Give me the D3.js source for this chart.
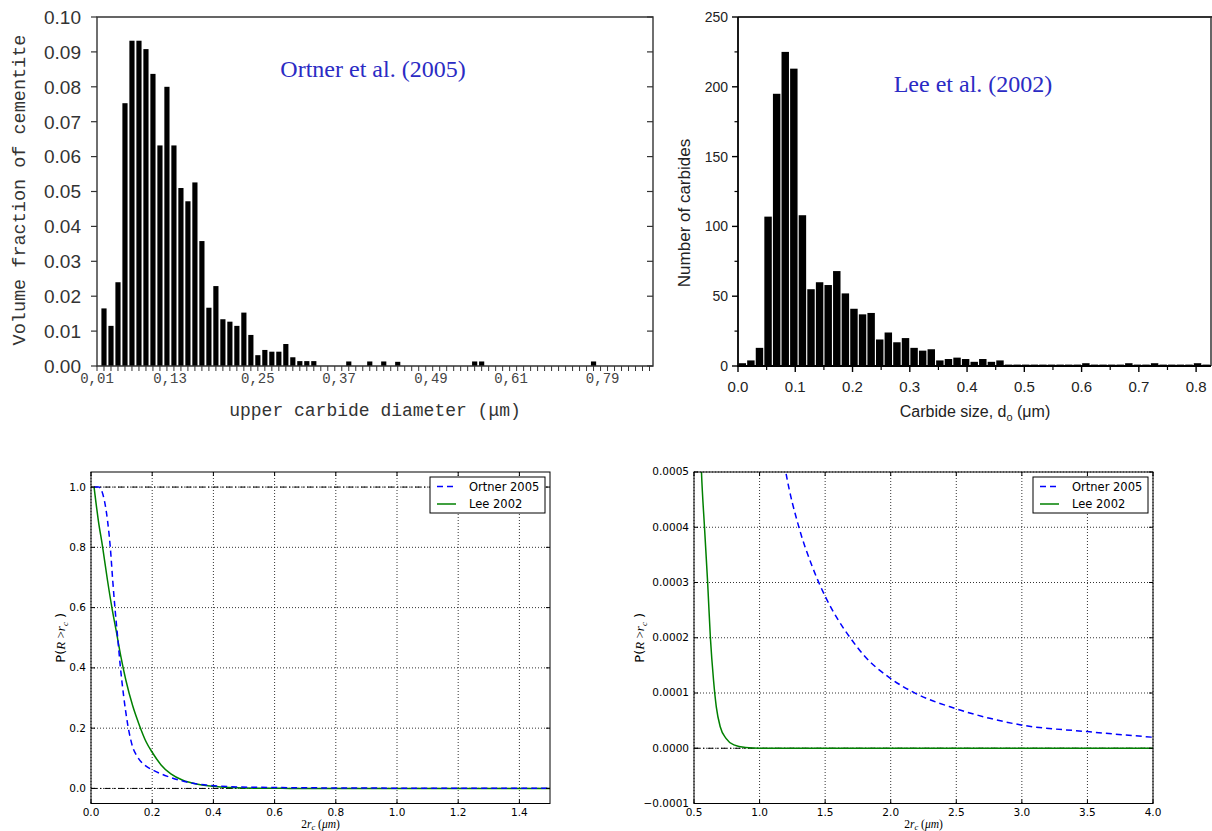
<!DOCTYPE html>
<html><head><meta charset="utf-8">
<script src="https://cdn.jsdelivr.net/npm/d3@7"></script>
<style>body{margin:0;background:#fff} svg{display:block}</style>
</head><body>
<svg id="c" width="1212" height="831"></svg>
<script>
// ---------------- DATA ----------------
// Top-left: Ortner et al. (2005) histogram (volume fraction per bin, bin index 0..78)
const ortnerFraction = [
 0.0165,0.0115,0.0240,0.0753,0.0932,0.0932,0.0908,0.0837,0.0632,0.0800,
 0.0632,0.0510,0.0472,0.0526,0.0358,0.0167,0.0229,0.0134,0.0127,0.0115,
 0.0153,0.0089,0.0031,0.0046,0.0041,0.0041,0.0063,0.0025,0.0014,0.0014,
 0.0014,0,0,0,0,0.0013,0,0,0.0013,0,
 0.0013,0,0.0012,0,0,0,0,0,0,0,
 0,0,0,0.0013,0.0013,0,0,0,0,0,
 0,0,0,0,0,0,0,0,0,0,
 0.0013,0,0,0,0,0,0,0,0];
const ortnerTickLabels = ["0,01","0,13","0,25","0,37","0,49","0,61","0,79"];
const ortnerTickBins   = [-1, 9.45, 22.0, 33.6, 46.75, 58.2, 71.3];
const ortnerYTicks = [0,0.01,0.02,0.03,0.04,0.05,0.06,0.07,0.08,0.09,0.10];

// Top-right: Lee et al. (2002) histogram (counts, bin width 0.015 um)
const leeBinWidth = 0.015;
const leeCounts = [
 2,4,13,107,195,225,213,108,55,60,
 58,68,52,41,37,38,19,24,17,20,
 13,11,12,4,5,6,5,3,5,3,
 4,1,1,1,1,1,1,1,1,1,
 2,1,1,1,1,2,1,1,2,1,
 1,1,1,2,1];
const leeXTicks = [0,0.1,0.2,0.3,0.4,0.5,0.6,0.7,0.8];
const leeYTicks = [0,50,100,150,200,250];

// Bottom: survival functions P(R > r_c) vs 2r_c (um)
const ortnerCurveX = [0.011,0.025,0.0436,0.054,0.063,0.071,0.078,0.087,0.096,0.107,0.12,0.136,0.15,0.165,0.18,0.2,0.225,0.25,0.305,0.37,0.458,0.62,0.8,1.0,1.2,1.3,1.4,1.5,1.6,1.7,1.8,1.995,2.189,2.487,2.755,2.993,3.5,4.0];
const ortnerCurveP = [1.0,1.0,0.956,0.889,0.801,0.69,0.602,0.503,0.403,0.304,0.212,0.138,0.108,0.087,0.074,0.062,0.05,0.04,0.023,0.012,0.0058,0.0028,0.0016,0.0009,0.0005,0.0004,0.00033,0.000275,0.000232,0.000197,0.000167,0.000127,0.0000994,0.0000723,0.0000542,0.0000422,0.0000301,0.0000199];
const leeCurveX = [0.01,0.024,0.038,0.054,0.068,0.082,0.098,0.114,0.136,0.158,0.18,0.2,0.229,0.261,0.30,0.349,0.40,0.45,0.5,0.557,0.58,0.604,0.625,0.649,0.67,0.70,0.744,0.804,0.893,1.0,1.5,4.0];
const leeCurveP = [1.0,0.889,0.801,0.69,0.602,0.525,0.436,0.359,0.275,0.21,0.155,0.12,0.078,0.048,0.027,0.014,0.007,0.003,0.0011,0.0005,0.0004,0.0003,0.0002,0.000123,0.000075,0.000039,0.000018,0.000006,0.0000012,0,0,0];
const seriesNames = ["Ortner 2005","Lee 2002"];
const seriesColors = ["#0000ff","#008000"];

// ---------------- DRAW ----------------
const svg = d3.select("#c");
svg.append("rect").attr("width",1212).attr("height",831).attr("fill","#fff");

// ===== Top-left histogram =====
(function(){
  const L=97,R=653,T=17,B=366;
  const g = svg.append("g");
  const x = d3.scaleLinear().domain([-1,78.5]).range([L,R]);
  const y = d3.scaleLinear().domain([0,0.10]).range([B,T]);
  g.selectAll("rect.bar").data(ortnerFraction.map((v,i)=>({i,v})).filter(d=>d.v>0))
    .join("rect").attr("x",d=>x(d.i-0.37)).attr("width",d=>x(d.i+0.37)-x(d.i-0.37))
    .attr("y",d=>y(d.v)).attr("height",d=>y(0)-y(d.v)).attr("fill","#000");
  const ax = "#333";
  g.append("path").attr("d",`M${L},${T}H${R}V${B}H${L}Z`).attr("fill","none").attr("stroke",ax).attr("stroke-width",1.4);
  ortnerYTicks.forEach(v=>{
    g.append("line").attr("x1",L-6).attr("x2",L).attr("y1",y(v)).attr("y2",y(v)).attr("stroke",ax).attr("stroke-width",1.2);
    g.append("line").attr("x1",R-6).attr("x2",R).attr("y1",y(v)).attr("y2",y(v)).attr("stroke",ax).attr("stroke-width",1.2);
    g.append("text").attr("x",L-16).attr("y",y(v)).attr("dy","0.36em").attr("text-anchor","end")
      .attr("font-family","Liberation Sans, Arial").attr("font-size",19).attr("fill","#333").text(d3.format(".2f")(v));
  });
  d3.range(-1,79).forEach(k=>{
    g.append("line").attr("x1",x(k)).attr("x2",x(k)).attr("y1",B).attr("y2",B+5).attr("stroke",ax).attr("stroke-width",1);
  });
  ortnerTickLabels.forEach((t,i)=>{
    g.append("text").attr("x",x(ortnerTickBins[i])).attr("y",383).attr("text-anchor","middle")
      .attr("font-family","Liberation Mono, Courier New, monospace").attr("font-size",14).attr("fill","#444").text(t);
  });
  g.append("text").attr("x",(L+R)/2).attr("y",416).attr("text-anchor","middle")
    .attr("font-family","Liberation Mono, Courier New, monospace").attr("font-size",18).attr("fill","#333")
    .text("upper carbide diameter (\u03bcm)");
  g.append("text").attr("transform","translate(25,190) rotate(-90)").attr("text-anchor","middle")
    .attr("font-family","Liberation Mono, Courier New, monospace").attr("font-size",18.5).attr("fill","#333")
    .text("Volume fraction of cementite");
  g.append("text").attr("x",373).attr("y",77).attr("text-anchor","middle")
    .attr("font-family","Liberation Serif, Times New Roman, serif").attr("font-size",24).attr("fill","#2b2bc4")
    .text("Ortner et al. (2005)");
})();

// ===== Top-right histogram =====
(function(){
  const L=738,R=1211,T=17,B=366;
  const g = svg.append("g");
  const x = d3.scaleLinear().domain([0,0.826]).range([L,R]);
  const y = d3.scaleLinear().domain([0,250]).range([B,T]);
  g.selectAll("rect.bar").data(leeCounts.map((v,i)=>({i,v})).filter(d=>d.v>0))
    .join("rect").attr("x",d=>x(d.i*leeBinWidth+0.001)).attr("width",d=>x(leeBinWidth-0.002)-x(0))
    .attr("y",d=>y(d.v)).attr("height",d=>y(0)-y(d.v)).attr("fill","#000");
  g.append("line").attr("x1",L).attr("x2",1212).attr("y1",T).attr("y2",T).attr("stroke","#333").attr("stroke-width",2);
  g.append("line").attr("x1",R).attr("x2",R).attr("y1",T).attr("y2",B).attr("stroke","#333").attr("stroke-width",1.5);
  g.append("line").attr("x1",L).attr("x2",L).attr("y1",T).attr("y2",B+1).attr("stroke","#000").attr("stroke-width",1.8);
  g.append("line").attr("x1",L).attr("x2",R).attr("y1",B).attr("y2",B).attr("stroke","#000").attr("stroke-width",1.8);
  leeYTicks.forEach(v=>{
    g.append("line").attr("x1",L-6).attr("x2",L).attr("y1",y(v)).attr("y2",y(v)).attr("stroke","#000").attr("stroke-width",1.4);
    g.append("text").attr("x",L-10).attr("y",y(v)).attr("dy","0.36em").attr("text-anchor","end")
      .attr("font-family","Liberation Sans, Arial").attr("font-size",14).attr("fill","#222").text(v);
  });
  leeYTicks.slice(0,-1).forEach(v=>{
    const m=v+25;
    g.append("line").attr("x1",L-3.5).attr("x2",L).attr("y1",y(m)).attr("y2",y(m)).attr("stroke","#000").attr("stroke-width",1.2);
  });
  leeXTicks.forEach(v=>{
    g.append("line").attr("x1",x(v)).attr("x2",x(v)).attr("y1",B).attr("y2",B+6).attr("stroke","#000").attr("stroke-width",1.4);
    g.append("line").attr("x1",x(v+0.05)).attr("x2",x(v+0.05)).attr("y1",B).attr("y2",B+4).attr("stroke","#000").attr("stroke-width",1.2);
    g.append("text").attr("x",x(v)).attr("y",392).attr("text-anchor","middle")
      .attr("font-family","Liberation Sans, Arial").attr("font-size",15).attr("fill","#222").text(d3.format(".1f")(v));
  });
  const xt = g.append("text").attr("x",975).attr("y",417).attr("text-anchor","middle")
    .attr("font-family","Liberation Sans, Arial").attr("font-size",16).attr("fill","#222");
  xt.append("tspan").text("Carbide size, d");
  xt.append("tspan").attr("font-size",11).attr("dy",4).text("o");
  xt.append("tspan").attr("dy",-4).text(" (\u03bcm)");
  g.append("text").attr("transform","translate(690,213) rotate(-90)").attr("text-anchor","middle")
    .attr("font-family","Liberation Sans, Arial").attr("font-size",17).attr("fill","#222").text("Number of carbides");
  g.append("text").attr("x",973).attr("y",92).attr("text-anchor","middle")
    .attr("font-family","Liberation Serif, Times New Roman, serif").attr("font-size",24).attr("fill","#2b2bc4")
    .text("Lee et al. (2002)");
})();

// ===== Bottom matplotlib-style panels =====
function mplPanel(o){
  const {L,R,T,B,xDom,yDom,xTicks,yTicks,xFmt,yFmt,hlines,ylabX,legX,id} = o;
  const g = svg.append("g");
  const x = d3.scaleLinear().domain(xDom).range([L,R]);
  const y = d3.scaleLinear().domain(yDom).range([B,T]);
  g.append("clipPath").attr("id",id).append("rect").attr("x",L).attr("y",T).attr("width",R-L).attr("height",B-T);
  xTicks.forEach(v=>g.append("line").attr("x1",x(v)).attr("x2",x(v)).attr("y1",T).attr("y2",B)
    .attr("stroke","#000").attr("stroke-width",0.8).attr("stroke-dasharray","1,2"));
  yTicks.forEach(v=>g.append("line").attr("x1",L).attr("x2",R).attr("y1",y(v)).attr("y2",y(v))
    .attr("stroke","#000").attr("stroke-width",0.8).attr("stroke-dasharray","1,2"));
  hlines.forEach(v=>g.append("line").attr("x1",L).attr("x2",R).attr("y1",y(v)).attr("y2",y(v))
    .attr("stroke","#000").attr("stroke-width",1).attr("stroke-dasharray","6,3,1.5,3"));
  const line = d3.line().x(d=>x(d[0])).y(d=>y(d[1])).curve(d3.curveMonotoneX);
  const cg = g.append("g").attr("clip-path",`url(#${id})`);
  cg.append("path").attr("d",line(leeCurveX.map((v,i)=>[v,leeCurveP[i]])))
    .attr("fill","none").attr("stroke",seriesColors[1]).attr("stroke-width",1.5);
  cg.append("path").attr("d",line(ortnerCurveX.map((v,i)=>[v,ortnerCurveP[i]])))
    .attr("fill","none").attr("stroke",seriesColors[0]).attr("stroke-width",1.5).attr("stroke-dasharray","6,4");
  g.append("rect").attr("x",L).attr("y",T).attr("width",R-L).attr("height",B-T).attr("fill","none").attr("stroke","#000").attr("stroke-width",1);
  xTicks.forEach(v=>{
    g.append("line").attr("x1",x(v)).attr("x2",x(v)).attr("y1",B).attr("y2",B-4).attr("stroke","#000");
    g.append("line").attr("x1",x(v)).attr("x2",x(v)).attr("y1",T).attr("y2",T+4).attr("stroke","#000");
    g.append("text").attr("x",x(v)).attr("y",B+12).attr("text-anchor","middle")
      .attr("font-family","DejaVu Sans, sans-serif").attr("font-size",10.5).attr("fill","#000").text(xFmt(v));
  });
  yTicks.forEach(v=>{
    g.append("line").attr("x1",L).attr("x2",L+4).attr("y1",y(v)).attr("y2",y(v)).attr("stroke","#000");
    g.append("line").attr("x1",R).attr("x2",R-4).attr("y1",y(v)).attr("y2",y(v)).attr("stroke","#000");
    g.append("text").attr("x",L-5).attr("y",y(v)).attr("dy","0.33em").attr("text-anchor","end")
      .attr("font-family","DejaVu Sans, sans-serif").attr("font-size",10.5).attr("fill","#000").text(yFmt(v));
  });
  const xl = g.append("text").attr("x",(L+R)/2).attr("y",828.3).attr("text-anchor","middle")
    .attr("font-family","Liberation Serif, serif").attr("font-size",11.5).attr("fill","#000");
  xl.append("tspan").text("2");
  xl.append("tspan").attr("font-style","italic").text("r");
  xl.append("tspan").attr("font-style","italic").attr("font-size",8.5).attr("dy",2).text("c");
  xl.append("tspan").attr("dy",-2).text(" (");
  xl.append("tspan").attr("font-style","italic").text("\u03bcm");
  xl.append("tspan").text(")");
  const yl = g.append("text").attr("transform",`translate(${ylabX},${(T+B)/2}) rotate(-90)`).attr("text-anchor","middle")
    .attr("font-size",13).attr("fill","#000");
  yl.append("tspan").attr("font-family","DejaVu Sans, sans-serif").text("P(");
  yl.append("tspan").attr("font-family","Liberation Serif, serif").attr("font-style","italic").text("R");
  yl.append("tspan").attr("font-family","Liberation Serif, serif").text(" >");
  yl.append("tspan").attr("font-family","Liberation Serif, serif").attr("font-style","italic").text("r");
  yl.append("tspan").attr("font-family","Liberation Serif, serif").attr("font-style","italic").attr("font-size",9).attr("dy",3).text("c");
  yl.append("tspan").attr("font-family","DejaVu Sans, sans-serif").attr("dy",-3).text(" )");
  const lg = g.append("g");
  lg.append("rect").attr("x",legX).attr("y",T+5).attr("width",115).attr("height",36)
    .attr("fill","#fff").attr("stroke","#000").attr("stroke-width",1);
  seriesNames.forEach((n,i)=>{
    const yy = T+14.5+i*17.5;
    lg.append("line").attr("x1",legX+7).attr("x2",legX+26).attr("y1",yy).attr("y2",yy)
      .attr("stroke",seriesColors[i]).attr("stroke-width",1.5).attr("stroke-dasharray",i===0?"6,4":null);
    lg.append("text").attr("x",legX+39).attr("y",yy).attr("dy","0.36em")
      .attr("font-family","DejaVu Sans, sans-serif").attr("font-size",11.5).attr("fill","#000").text(n);
  });
}

mplPanel({id:"clipL",L:91,R:550,T:472,B:803.5,xDom:[0,1.5],yDom:[-0.05,1.05],
  xTicks:[0,0.2,0.4,0.6,0.8,1.0,1.2,1.4],yTicks:[0,0.2,0.4,0.6,0.8,1.0],
  xFmt:d3.format(".1f"),yFmt:d3.format(".1f"),hlines:[0,1],ylabX:65,legX:430});
mplPanel({id:"clipR",L:694,R:1153,T:472,B:803.5,xDom:[0.5,4.0],yDom:[-0.0001,0.0005],
  xTicks:[0.5,1.0,1.5,2.0,2.5,3.0,3.5,4.0],yTicks:[-0.0001,0,0.0001,0.0002,0.0003,0.0004,0.0005],
  xFmt:d3.format(".1f"),yFmt:d3.format(".4f"),hlines:[0],ylabX:644,legX:1033});
</script>
</body></html>
